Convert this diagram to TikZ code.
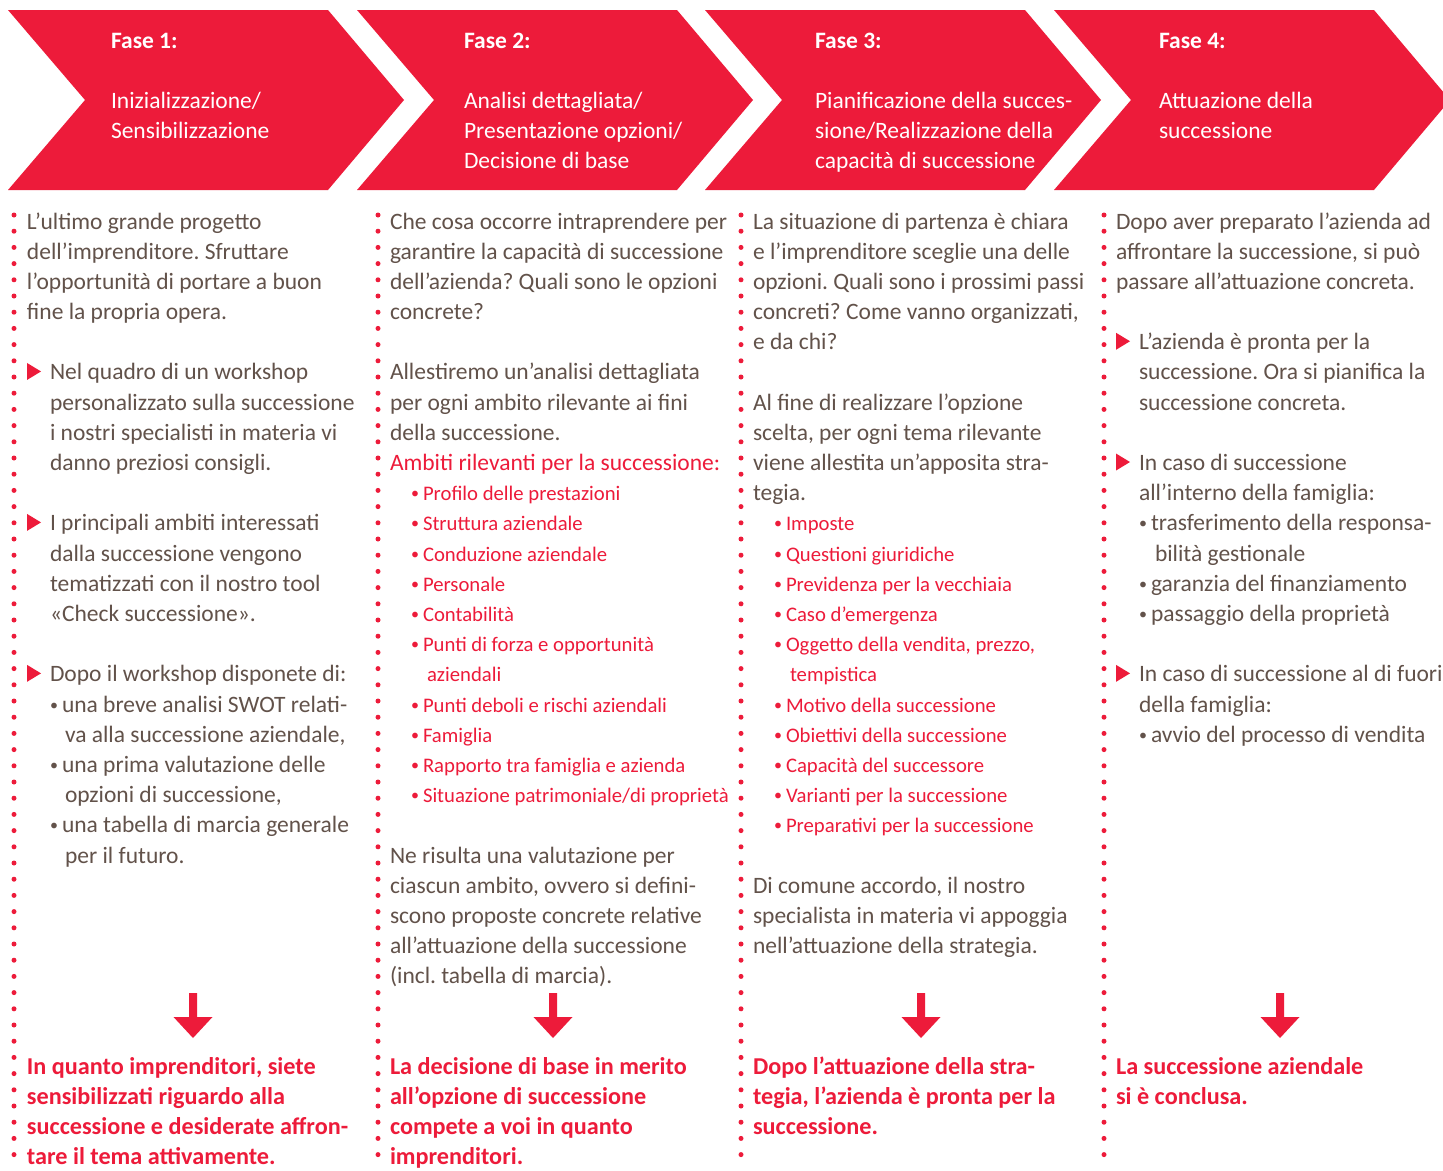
\documentclass[tikz,border=0pt]{standalone}
\usepackage{fontspec}
\setmainfont{Carlito}
\frenchspacing
\definecolor{cred}{RGB}{237,27,58}
\definecolor{cbrown}{RGB}{98,82,74}
\newcommand\txl[5]{\node[#4] (#1) at (#2,{229+30.19*(#3)}) {#5};}
\newcommand\hdl[5]{\node[#4] (#1) at (#2,{48+30*(#3)}) {#5};}
\newcommand\tribul[2]{\fill[cred] (#1,{229+30.19*(#2)-17}) -- ++(14,8.5) -- ++(-14,8.5) -- cycle;}
\newcommand\bul[4]{\node[#4] (#1) at (#2,{229+30.19*(#3)}) {\raisebox{2pt}{\fontsize{16}{16}\selectfont •}};}
\newcommand\chevron[1]{\fill[cred] (#1+8,10) -- (#1+328,10) -- (#1+404,100) -- (#1+328,190) -- (#1+8,190) -- (#1+85,100) -- cycle;}
\newcommand\redarrow[1]{\fill[cred] (#1-4,993) -- (#1+4,993) -- (#1+4,1017) -- (#1+19.5,1017) -- (#1,1038) -- (#1-19.5,1017) -- (#1-4,1017) -- cycle;}
\begin{document}
\begin{tikzpicture}[x=1pt,y=-1pt,
 body/.style={anchor=base west, inner sep=0pt, outer sep=0pt, text=cbrown, font=\fontsize{23.5}{30}\selectfont},
 bodyred/.style={body, text=cred},
 redlist/.style={body, text=cred, font=\fontsize{20.7}{30}\selectfont},
 concl/.style={body, text=cred, font=\fontsize{24.2}{30}\selectfont\bfseries},
 head/.style={anchor=base west, inner sep=0pt, outer sep=0pt, text=white, font=\fontsize{23.5}{30}\selectfont},
 headb/.style={head, font=\fontsize{23.5}{30}\selectfont\bfseries},
 dotline/.style={draw=cred, line width=5pt, line cap=round, dash pattern=on 0pt off 16.2pt},
]
\fill[white] (0,0) rectangle (1443,1170);
\useasboundingbox (0,0) rectangle (1443,1170);
% chevrons
\chevron{0}
\chevron{349}
\chevron{697}
\fill[cred] (1054,10) -- (1374,10) -- (1443,91.7) -- (1443,108.3) -- (1374,190) -- (1054,190) -- (1131,100) -- cycle;
% dotted separators
\draw[dotline] (14,215) -- (14,1170);
\draw[dotline] (378,215) -- (378,1170);
\draw[dotline] (741,215) -- (741,1170);
\draw[dotline] (1104,215) -- (1104,1170);
% headers
\hdl{h1a}{111}{0}{headb}{Fase 1:}
\hdl{h1b}{111}{2}{head}{Inizializzazione/}
\hdl{h1c}{111}{3}{head}{Sensibilizzazione}
\hdl{h2a}{464}{0}{headb}{Fase 2:}
\hdl{h2b}{464}{2}{head}{Analisi dettagliata/}
\hdl{h2c}{464}{3}{head}{Presentazione opzioni/}
\hdl{h2d}{464}{4}{head}{Decisione di base}
\hdl{h3a}{815}{0}{headb}{Fase 3:}
\hdl{h3b}{815}{2}{head}{Pianificazione della succes-}
\hdl{h3c}{815}{3}{head}{sione/Realizzazione della}
\hdl{h3d}{815}{4}{head}{capacità di successione}
\hdl{h4a}{1159}{0}{headb}{Fase 4:}
\hdl{h4b}{1159}{2}{head}{Attuazione della}
\hdl{h4c}{1159}{3}{head}{successione}
% column 1
\txl{a0}{27}{0}{body}{L'ultimo grande progetto}
\txl{a1}{27}{1}{body}{dell'imprenditore. Sfruttare}
\txl{a2}{27}{2}{body}{l'opportunità di portare a buon}
\txl{a3}{27}{3}{body}{fine la propria opera.}
\tribul{27}{5}
\txl{a5}{50}{5}{body}{Nel quadro di un workshop}
\txl{a6}{50}{6}{body}{personalizzato sulla successione}
\txl{a7}{50}{7}{body}{i nostri specialisti in materia vi}
\txl{a8}{50}{8}{body}{danno preziosi consigli.}
\tribul{27}{10}
\txl{a10}{50}{10}{body}{I principali ambiti interessati}
\txl{a11}{50}{11}{body}{dalla successione vengono}
\txl{a12}{50}{12}{body}{tematizzati con il nostro tool}
\txl{a13}{50}{13}{body}{«Check successione».}
\tribul{27}{15}
\txl{a15}{50}{15}{body}{Dopo il workshop disponete di:}
\bul{ab16}{50}{16}{body}
\txl{a16}{62}{16}{body}{una breve analisi SWOT relati-}
\txl{a17}{65}{17}{body}{va alla successione aziendale,}
\bul{ab18}{50}{18}{body}
\txl{a18}{62}{18}{body}{una prima valutazione delle}
\txl{a19}{65}{19}{body}{opzioni di successione,}
\bul{ab20}{50}{20}{body}
\txl{a20}{62}{20}{body}{una tabella di marcia generale}
\txl{a21}{65}{21}{body}{per il futuro.}
\redarrow{193}
\txl{a28}{27}{28}{concl}{In quanto imprenditori, siete}
\txl{a29}{27}{29}{concl}{sensibilizzati riguardo alla}
\txl{a30}{27}{30}{concl}{successione e desiderate affron-}
\txl{a31}{27}{31}{concl}{tare il tema attivamente.}
% column 2
\txl{b0}{390}{0}{body}{Che cosa occorre intraprendere per}
\txl{b1}{390}{1}{body}{garantire la capacità di successione}
\txl{b2}{390}{2}{body}{dell'azienda? Quali sono le opzioni}
\txl{b3}{390}{3}{body}{concrete?}
\txl{b5}{390}{5}{body}{Allestiremo un'analisi dettagliata}
\txl{b6}{390}{6}{body}{per ogni ambito rilevante ai fini}
\txl{b7}{390}{7}{body}{della successione.}
\txl{b8}{390}{8}{bodyred}{Ambiti rilevanti per la successione:}
\bul{bb9}{411}{9}{redlist}
\txl{b9}{423}{9}{redlist}{Profilo delle prestazioni}
\bul{bb10}{411}{10}{redlist}
\txl{b10}{423}{10}{redlist}{Struttura aziendale}
\bul{bb11}{411}{11}{redlist}
\txl{b11}{423}{11}{redlist}{Conduzione aziendale}
\bul{bb12}{411}{12}{redlist}
\txl{b12}{423}{12}{redlist}{Personale}
\bul{bb13}{411}{13}{redlist}
\txl{b13}{423}{13}{redlist}{Contabilità}
\bul{bb14}{411}{14}{redlist}
\txl{b14}{423}{14}{redlist}{Punti di forza e opportunità}
\txl{b15}{427}{15}{redlist}{aziendali}
\bul{bb16}{411}{16}{redlist}
\txl{b16}{423}{16}{redlist}{Punti deboli e rischi aziendali}
\bul{bb17}{411}{17}{redlist}
\txl{b17}{423}{17}{redlist}{Famiglia}
\bul{bb18}{411}{18}{redlist}
\txl{b18}{423}{18}{redlist}{Rapporto tra famiglia e azienda}
\bul{bb19}{411}{19}{redlist}
\txl{b19}{423}{19}{redlist}{Situazione patrimoniale/di proprietà}
\txl{b21}{390}{21}{body}{Ne risulta una valutazione per}
\txl{b22}{390}{22}{body}{ciascun ambito, ovvero si defini-}
\txl{b23}{390}{23}{body}{scono proposte concrete relative}
\txl{b24}{390}{24}{body}{all'attuazione della successione}
\txl{b25}{390}{25}{body}{(incl. tabella di marcia).}
\redarrow{553}
\txl{b28}{390}{28}{concl}{La decisione di base in merito}
\txl{b29}{390}{29}{concl}{all'opzione di successione}
\txl{b30}{390}{30}{concl}{compete a voi in quanto}
\txl{b31}{390}{31}{concl}{imprenditori.}
% column 3
\txl{c0}{753}{0}{body}{La situazione di partenza è chiara}
\txl{c1}{753}{1}{body}{e l'imprenditore sceglie una delle}
\txl{c2}{753}{2}{body}{opzioni. Quali sono i prossimi passi}
\txl{c3}{753}{3}{body}{concreti? Come vanno organizzati,}
\txl{c4}{753}{4}{body}{e da chi?}
\txl{c6}{753}{6}{body}{Al fine di realizzare l'opzione}
\txl{c7}{753}{7}{body}{scelta, per ogni tema rilevante}
\txl{c8}{753}{8}{body}{viene allestita un'apposita stra-}
\txl{c9}{753}{9}{body}{tegia.}
\bul{cb10}{774}{10}{redlist}
\txl{c10}{786}{10}{redlist}{Imposte}
\bul{cb11}{774}{11}{redlist}
\txl{c11}{786}{11}{redlist}{Questioni giuridiche}
\bul{cb12}{774}{12}{redlist}
\txl{c12}{786}{12}{redlist}{Previdenza per la vecchiaia}
\bul{cb13}{774}{13}{redlist}
\txl{c13}{786}{13}{redlist}{Caso d'emergenza}
\bul{cb14}{774}{14}{redlist}
\txl{c14}{786}{14}{redlist}{Oggetto della vendita, prezzo,}
\txl{c15}{790}{15}{redlist}{tempistica}
\bul{cb16}{774}{16}{redlist}
\txl{c16}{786}{16}{redlist}{Motivo della successione}
\bul{cb17}{774}{17}{redlist}
\txl{c17}{786}{17}{redlist}{Obiettivi della successione}
\bul{cb18}{774}{18}{redlist}
\txl{c18}{786}{18}{redlist}{Capacità del successore}
\bul{cb19}{774}{19}{redlist}
\txl{c19}{786}{19}{redlist}{Varianti per la successione}
\bul{cb20}{774}{20}{redlist}
\txl{c20}{786}{20}{redlist}{Preparativi per la successione}
\txl{c22}{753}{22}{body}{Di comune accordo, il nostro}
\txl{c23}{753}{23}{body}{specialista in materia vi appoggia}
\txl{c24}{753}{24}{body}{nell'attuazione della strategia.}
\redarrow{921}
\txl{c28}{753}{28}{concl}{Dopo l'attuazione della stra-}
\txl{c29}{753}{29}{concl}{tegia, l'azienda è pronta per la}
\txl{c30}{753}{30}{concl}{successione.}
% column 4
\txl{d0}{1116}{0}{body}{Dopo aver preparato l'azienda ad}
\txl{d1}{1116}{1}{body}{affrontare la successione, si può}
\txl{d2}{1116}{2}{body}{passare all'attuazione concreta.}
\tribul{1116}{4}
\txl{d4}{1139}{4}{body}{L'azienda è pronta per la}
\txl{d5}{1139}{5}{body}{successione. Ora si pianifica la}
\txl{d6}{1139}{6}{body}{successione concreta.}
\tribul{1116}{8}
\txl{d8}{1139}{8}{body}{In caso di successione}
\txl{d9}{1139}{9}{body}{all'interno della famiglia:}
\bul{db10}{1139}{10}{body}
\txl{d10}{1151}{10}{body}{trasferimento della responsa-}
\txl{d11}{1155}{11}{body}{bilità gestionale}
\bul{db12}{1139}{12}{body}
\txl{d12}{1151}{12}{body}{garanzia del finanziamento}
\bul{db13}{1139}{13}{body}
\txl{d13}{1151}{13}{body}{passaggio della proprietà}
\tribul{1116}{15}
\txl{d15}{1139}{15}{body}{In caso di successione al di fuori}
\txl{d16}{1139}{16}{body}{della famiglia:}
\bul{db17}{1139}{17}{body}
\txl{d17}{1151}{17}{body}{avvio del processo di vendita}
\redarrow{1280}
\txl{d28}{1116}{28}{concl}{La successione aziendale}
\txl{d29}{1116}{29}{concl}{si è conclusa.}
\end{tikzpicture}
\end{document}
